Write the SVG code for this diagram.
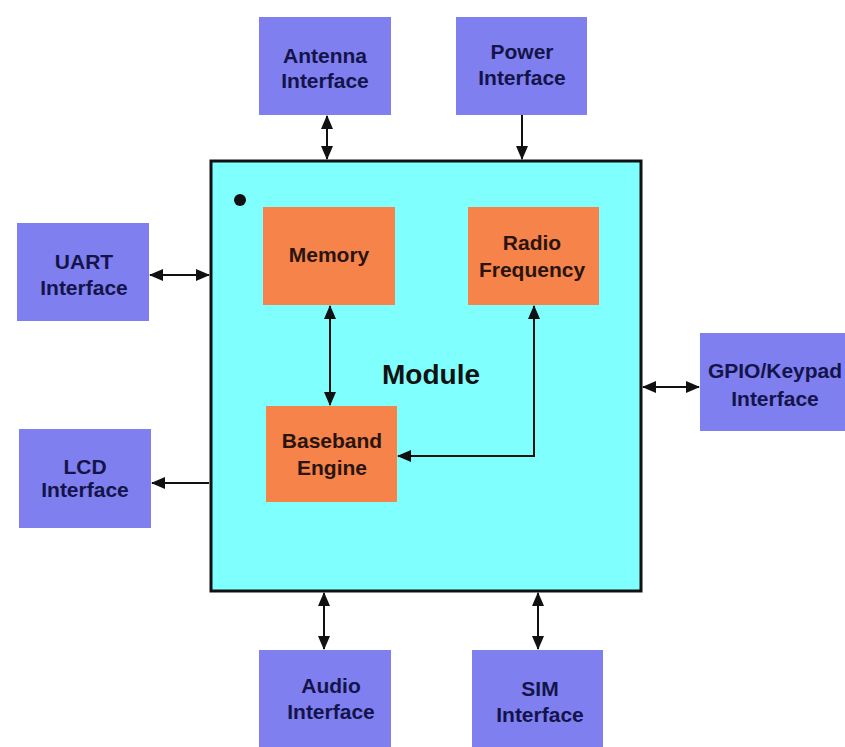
<svg xmlns="http://www.w3.org/2000/svg" width="845" height="747" viewBox="0 0 845 747">
<style>
.iface{fill:#7f7ff0;}
.inner{fill:#f5834a;}
.it{font-family:"Liberation Sans",Arial,sans-serif;font-weight:bold;font-size:21px;fill:#14144a;text-anchor:middle;}
.nt{font-family:"Liberation Sans",Arial,sans-serif;font-weight:bold;font-size:21px;fill:#2a1410;text-anchor:middle;}
.conn{stroke:#111;stroke-width:2;fill:none;}
</style>
<defs>
<marker id="ah" markerUnits="userSpaceOnUse" markerWidth="14" markerHeight="14" viewBox="0 0 14 14" refX="13" refY="7" orient="auto-start-reverse">
<path d="M0,1 L14,7 L0,13 Z" fill="#111"/>
</marker>
</defs>
<rect width="845" height="747" fill="#fff"/>
<g id="module">
<rect x="211" y="161" width="430" height="430" fill="#80ffff" stroke="#111" stroke-width="3"/>
<circle cx="240" cy="200" r="6" fill="#111"/>
<text x="431" y="384" font-family="Liberation Sans,Arial,sans-serif" font-weight="bold" font-size="28" fill="#111" text-anchor="middle">Module</text>
</g>
<g id="antenna"><rect class="iface" x="259" y="17" width="132" height="98"/><text class="it" x="325" y="63">Antenna</text><text class="it" x="325" y="88">Interface</text></g>
<g id="power"><rect class="iface" x="456" y="17" width="131" height="98"/><text class="it" x="522" y="59">Power</text><text class="it" x="522" y="85">Interface</text></g>
<g id="uart"><rect class="iface" x="17" y="223" width="132" height="98"/><text class="it" x="84" y="269">UART</text><text class="it" x="84" y="295">Interface</text></g>
<g id="lcd"><rect class="iface" x="19" y="429" width="132" height="99"/><text class="it" x="85" y="474">LCD</text><text class="it" x="85" y="497">Interface</text></g>
<g id="gpio"><rect class="iface" x="700" y="333" width="145" height="98"/><text class="it" x="775" y="378">GPIO/Keypad</text><text class="it" x="775" y="406">Interface</text></g>
<g id="audio"><rect class="iface" x="259" y="650" width="132" height="97"/><text class="it" x="331" y="693">Audio</text><text class="it" x="331" y="719">Interface</text></g>
<g id="sim"><rect class="iface" x="472" y="650" width="131" height="97"/><text class="it" x="540" y="696">SIM</text><text class="it" x="540" y="722">Interface</text></g>
<g id="memory"><rect class="inner" x="263" y="207" width="132" height="98"/><text class="nt" x="329" y="262">Memory</text></g>
<g id="radio"><rect class="inner" x="468" y="207" width="131" height="98"/><text class="nt" x="532" y="250">Radio</text><text class="nt" x="532" y="277">Frequency</text></g>
<g id="baseband"><rect class="inner" x="266" y="406" width="131" height="96"/><text class="nt" x="332" y="448">Baseband</text><text class="nt" x="332" y="475">Engine</text></g>
<g id="connectors">
<line class="conn" x1="327" y1="116" x2="327" y2="159" marker-start="url(#ah)" marker-end="url(#ah)"/>
<line class="conn" x1="522" y1="115" x2="522" y2="159" marker-end="url(#ah)"/>
<line class="conn" x1="150" y1="275" x2="209" y2="275" marker-start="url(#ah)" marker-end="url(#ah)"/>
<line class="conn" x1="209" y1="483" x2="152" y2="483" marker-end="url(#ah)"/>
<line class="conn" x1="643" y1="387" x2="699" y2="387" marker-start="url(#ah)" marker-end="url(#ah)"/>
<line class="conn" x1="324" y1="593" x2="324" y2="649" marker-start="url(#ah)" marker-end="url(#ah)"/>
<line class="conn" x1="538" y1="593" x2="538" y2="649" marker-start="url(#ah)" marker-end="url(#ah)"/>
<line class="conn" x1="330" y1="306" x2="330" y2="405" marker-start="url(#ah)" marker-end="url(#ah)"/>
<polyline class="conn" points="534,306 534,456 398,456" marker-start="url(#ah)" marker-end="url(#ah)"/>
</g>
</svg>
